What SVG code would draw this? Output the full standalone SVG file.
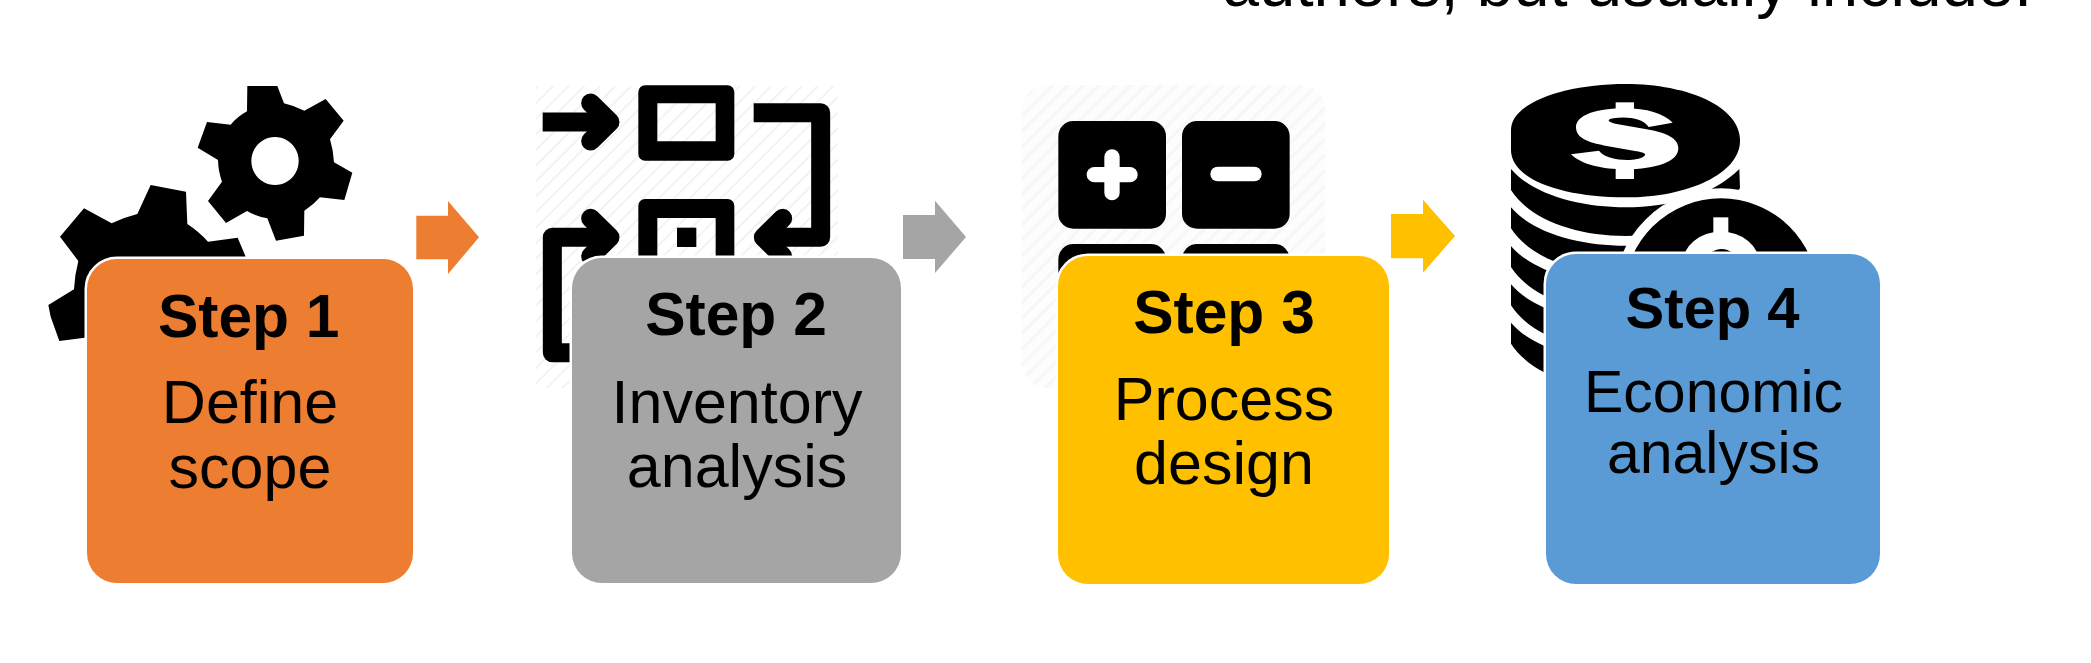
<svg xmlns="http://www.w3.org/2000/svg" width="2091" height="663" viewBox="0 0 2091 663">
<style>
.card{stroke:#fff;stroke-width:5;paint-order:stroke}
.t{font-family:"Liberation Sans",Arial,sans-serif;fill:#000;text-anchor:middle}
.h{font-size:60.5px;font-weight:700}
.h4{font-size:58px;font-weight:700}
.b{font-size:61px}
.b4{font-size:59px}
.cap{font-size:65.3px}
.k{fill:#000}
.w{fill:#fff}
.line{fill:none;stroke:#000;stroke-width:57;stroke-linejoin:round}
.chev{fill:none;stroke:#000;stroke-width:57;stroke-linejoin:round;stroke-linecap:round}
</style>
<defs>
<pattern id="hatch2" width="11" height="11" patternUnits="userSpaceOnUse" patternTransform="rotate(-45)"><rect width="11" height="11" fill="#fff"/><rect width="11" height="2" fill="#f3f3f3"/></pattern>
<pattern id="hatch3" width="11" height="11" patternUnits="userSpaceOnUse" patternTransform="rotate(-45)"><rect width="11" height="11" fill="#fdfdfd"/><rect width="11" height="3" fill="#f6f6f6"/></pattern>
<path id="band" d="M183 357C250 435 390 472 527 472C660 472 790 435 868 357L870 415C790 510 660 558 527 558C380 558 240 510 183 420Z"/>
</defs>
<rect width="2091" height="663" fill="#fff"/>
<text id="caption" class="t cap" x="1627.5" y="5.5">authors, but usually include:</text>

<g id="connectors">
<path fill="#ED7D31" d="M416.3 215.7H448V201L479 237.3L448 274V259.3H416.3Z"/>
<path fill="#A5A5A5" d="M903 215H935V200.7L966 237L935 273V259H903Z"/>
<path fill="#FFC000" d="M1391 214H1423V199.7L1455 236L1423 272.7V258.3H1391Z"/>
</g>

<g id="step1">
<g transform="scale(.33333)">
<path class="k" fill-rule="evenodd" d="M742 258H832L852 310Q885 318 913 332L977 297L1031 362L990 418Q1000 450 1002 487L1057 518L1033 600L960 592Q940 615 913 632L912 707L828 722L802 655Q770 650 741 633L678 669L624 603L666 545Q655 515 654 480L593 443L621 366L692 374Q712 350 741 334ZM825 411A71 72 0 1 0 825.1 411Z"/>
<path class="k" d="M145 915L222 868Q224 825 235 783L180 710L252 625L335 670Q372 652 412 642L452 555L558 575L562 672Q597 695 624 725L713 713L737 770L760 1000L254 1013L178 1023L152 950Z"/>
</g>
<rect class="card" x="87" y="259" width="326" height="324" rx="30" fill="#ED7D31"/>
<text class="t h" x="248.7" y="337">Step 1</text>
<text class="t b" x="250" y="423.3">Define</text>
<text class="t b" x="250" y="487.7">scope</text>
</g>

<g id="step2">
<rect x="536" y="86" width="302" height="302" fill="url(#hatch2)"/>
<g transform="translate(500 50) scale(.33333)">
<path class="k" fill-rule="evenodd" d="M435 106H683A20 20 0 0 1 703 126V312A20 20 0 0 1 683 332H435A20 20 0 0 1 415 312V126A20 20 0 0 1 435 106ZM472 160V274H647V160Z"/>
<path class="k" fill-rule="evenodd" d="M435 447H683A20 20 0 0 1 703 467V700H415V467A20 20 0 0 1 435 447ZM472 504V700H647V504Z"/>
<rect class="k" x="531" y="533" width="58" height="58"/>
<path class="line" d="M128 216H330"/>
<path class="chev" d="M272 159L330 216L272 273"/>
<path class="line" d="M761 188H962V562H800"/>
<path class="chev" d="M848 505L790 562L848 619"/>
<path class="line" d="M330 562H157V908H240"/>
<path class="chev" d="M272 505L330 562L272 619"/>
</g>
<rect class="card" x="572" y="258" width="329" height="325" rx="30" fill="#A5A5A5"/>
<text class="t h" x="736" y="335">Step 2</text>
<text class="t b" x="737" y="422.5">Inventory</text>
<text class="t b" x="737" y="486.8">analysis</text>
</g>

<g id="step3">
<rect x="1022" y="85" width="303" height="303" rx="25" fill="url(#hatch3)"/>
<g transform="translate(1000 50) scale(.33333)">
<rect class="k" x="175" y="213" width="323" height="323" rx="45"/>
<rect class="k" x="546" y="213" width="323" height="323" rx="45"/>
<rect class="k" x="175" y="582" width="323" height="323" rx="45"/>
<rect class="k" x="546" y="582" width="323" height="323" rx="45"/>
<rect class="w" x="260" y="351" width="153" height="46" rx="23"/>
<rect class="w" x="313" y="298" width="46" height="153" rx="23"/>
<rect class="w" x="631" y="350" width="154" height="44" rx="22"/>
</g>
<rect class="card" x="1058" y="256" width="331" height="328" rx="30" fill="#FFC000"/>
<text class="t h" x="1224" y="333">Step 3</text>
<text class="t b" x="1224" y="420">Process</text>
<text class="t b" x="1224" y="484.3">design</text>
</g>

<g id="step4">
<g transform="translate(1450 50) scale(.33333)">
<use href="#band"/>
<use href="#band" y="115"/>
<use href="#band" y="231"/>
<use href="#band" y="346"/>
<use href="#band" y="461"/>
<path class="k" d="M183 240C183 160 340 102 527 102C715 102 870 170 870 272C870 370 715 442 527 442C340 442 183 390 183 300Z"/>
<path class="w" d="M668 218C640 190 590 175 525 175C440 175 378 195 378 232C378 270 430 280 470 288L555 303C585 308 592 312 580 320C560 335 470 335 447 302L363 313C395 345 460 358 525 358C620 358 685 335 685 295C685 258 630 245 590 238L500 222C470 216 470 208 490 205C530 198 580 205 596 231Z"/>
<rect class="w" x="497" y="157" width="55" height="30"/>
<rect class="w" x="497" y="350" width="55" height="37"/>
<circle cx="813" cy="736" r="306" class="k" stroke="#fff" stroke-width="30"/>
<ellipse class="w" cx="813" cy="640" rx="115" ry="95"/>
<rect class="w" x="790" y="502" width="45" height="50"/>
<ellipse class="k" cx="815" cy="640" rx="45" ry="43"/>
</g>
<rect class="card" x="1546" y="254" width="334" height="330" rx="30" fill="#5B9BD5"/>
<text class="t h4" x="1712.5" y="328">Step 4</text>
<text class="t b4" x="1713.5" y="412.3">Economic</text>
<text class="t b4" x="1713.5" y="473.3">analysis</text>
</g>
</svg>
